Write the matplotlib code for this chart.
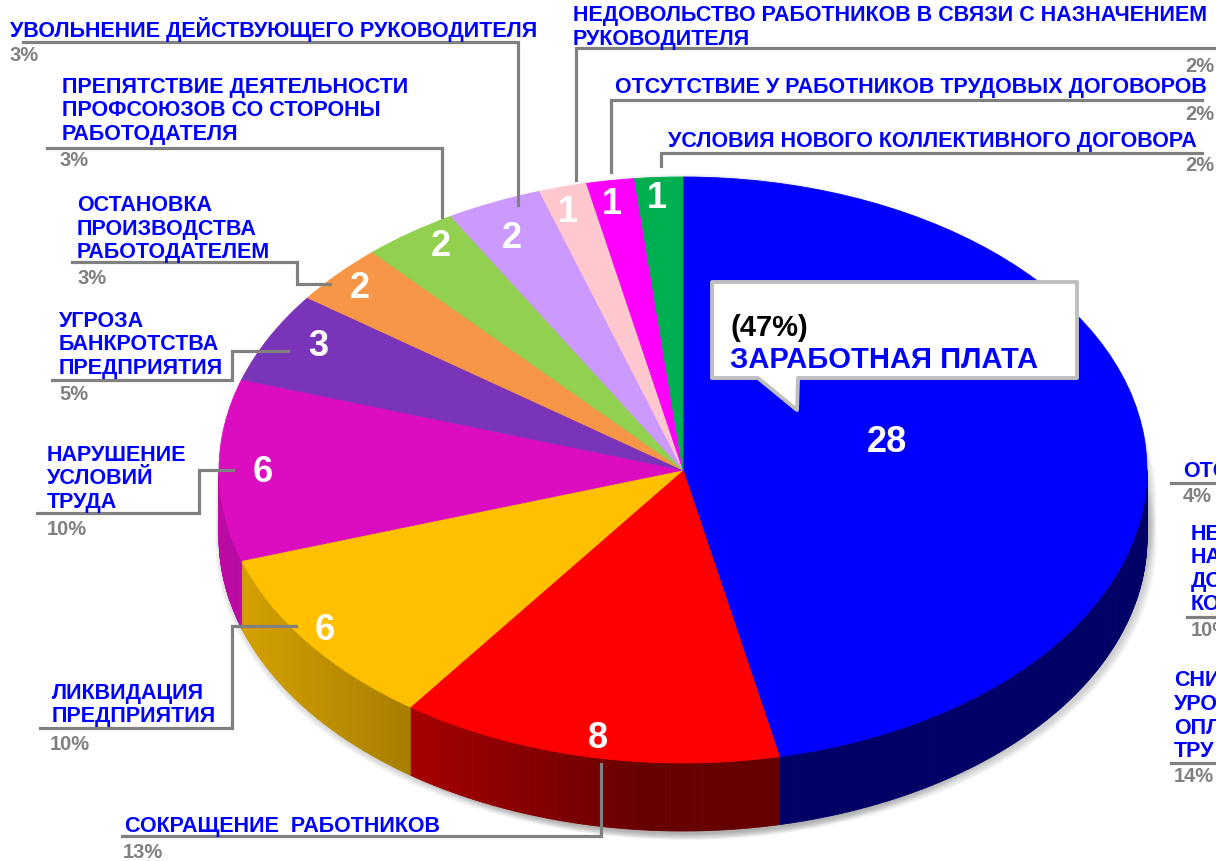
import matplotlib
matplotlib.use("Agg")
import matplotlib.pyplot as plt
import numpy as np
from matplotlib.collections import PolyCollection
from matplotlib.patches import Polygon, Ellipse
import matplotlib.colors as mcolors

plt.rcParams['font.family'] = ['Liberation Sans', 'DejaVu Sans']

# ---------------- data ----------------
categories = [
    "ЗАРАБОТНАЯ ПЛАТА",
    "СОКРАЩЕНИЕ  РАБОТНИКОВ",
    "ЛИКВИДАЦИЯ\nПРЕДПРИЯТИЯ",
    "НАРУШЕНИЕ\nУСЛОВИЙ\nТРУДА",
    "УГРОЗА\nБАНКРОТСТВА\nПРЕДПРИЯТИЯ",
    "ОСТАНОВКА\nПРОИЗВОДСТВА\nРАБОТОДАТЕЛЕМ",
    "ПРЕПЯТСТВИЕ ДЕЯТЕЛЬНОСТИ\nПРОФСОЮЗОВ СО СТОРОНЫ\nРАБОТОДАТЕЛЯ",
    "УВОЛЬНЕНИЕ ДЕЙСТВУЮЩЕГО РУКОВОДИТЕЛЯ",
    "НЕДОВОЛЬСТВО РАБОТНИКОВ В СВЯЗИ С НАЗНАЧЕНИЕМ\nРУКОВОДИТЕЛЯ",
    "ОТСУТСТВИЕ У РАБОТНИКОВ ТРУДОВЫХ ДОГОВОРОВ",
    "УСЛОВИЯ НОВОГО КОЛЛЕКТИВНОГО ДОГОВОРА",
]
values = [28, 8, 6, 6, 3, 2, 2, 2, 1, 1, 1]
colors = ["#0000FF", "#FF0000", "#FFC000", "#DC0CC0", "#7A34B9", "#F79646",
          "#92D050", "#CC99FF", "#FFC7CE", "#FF00FF", "#00B050"]

# visible fragments of the neighbouring chart's labels (cut at the right edge)
extra_labels = ["ОТС", "НЕ\nНА\nДО\nКО", "СНИ\nУРО\nОПЛ\nТРУ"]
extra_percents = ["4%", "10%", "14%"]

# ---------------- layout (pixels) ----------------
W, H = 1216, 861
CX, CY, RX, RY, DEPTH = 683, 470, 464, 293, 68

fig = plt.figure(figsize=(W / 100, H / 100), dpi=100)
fig.patch.set_facecolor("white")

ax = fig.add_axes([0, 0, 1, 1])
wedges, _ = ax.pie(values, colors=colors, startangle=90, counterclock=False,
                   radius=1.0, center=(0, 0),
                   wedgeprops=dict(linewidth=0.6, zorder=3))
for w in wedges:
    w.set_edgecolor(w.get_facecolor())
ax.set_aspect("auto")
ax.set_xlim(-CX / RX, (W - CX) / RX)
ax.set_ylim(-(H - CY) / RY, CY / RY)
ax.axis("off")

d = DEPTH / RY

# soft narrow shadow around the body
for i in range(6):
    e = Ellipse((0.006, -d * 0.5 - 0.01), 2.0 + 0.006 * i, 2.0 + d + 0.008 * i,
                facecolor="#707070", edgecolor="none", alpha=0.06, zorder=0)
    ax.add_patch(e)
    e2 = Ellipse((0.006, -d - 0.01), 2.0 + 0.006 * i, 2.0 + 0.008 * i,
                 facecolor="#707070", edgecolor="none", alpha=0.06, zorder=0)
    ax.add_patch(e2)


def shade(x):
    return float(np.clip(0.86 - 0.5 * (x + 1), 0.40, 0.86))


polys, pcols = [], []
for w, c in zip(wedges, colors):
    base = np.array(mcolors.to_rgb(c))
    t1, t2 = w.theta1, w.theta2
    for k in (-360, 0, 360):
        lo, hi = max(t1, 180 + k), min(t2, 360 + k)
        if hi <= lo:
            continue
        angs = np.linspace(lo, hi, max(2, int((hi - lo) / 0.5) + 1))
        for a, b in zip(angs[:-1], angs[1:]):
            ra, rb = np.radians(a), np.radians(b)
            pts = [(np.cos(ra), np.sin(ra)), (np.cos(rb), np.sin(rb)),
                   (np.cos(rb), np.sin(rb) - d), (np.cos(ra), np.sin(ra) - d)]
            polys.append(pts)
            xm = 0.5 * (np.cos(ra) + np.cos(rb))
            pcols.append(tuple(base * shade(xm)))
pc = PolyCollection(polys, facecolors=pcols, edgecolors=pcols, linewidths=0.6, zorder=2)
ax.add_collection(pc)

# ---------------- overlay in pixel coordinates ----------------
ov = fig.add_axes([0, 0, 1, 1])
ov.set_xlim(0, W)
ov.set_ylim(H, 0)
ov.axis("off")
ov.patch.set_alpha(0)

total = sum(values)
pcts = ["%d%%" % round(v * 100 / total) for v in values]

BLUE = "#0000FF"
GREY = "#808080"
LFS = 15.5
PFS = 14.5
LH = 23.5

# value labels on slices
num_pos = [(887, 442), (598, 739), (325, 630), (263, 472), (318, 347), (360, 288),
           (441, 247), (512, 238), (568, 213), (612, 205), (657, 198)]
for v, (x, y) in zip(values, num_pos):
    ov.text(x, y, str(v), color="white", fontsize=26, fontweight="bold",
            ha="center", va="center", zorder=10)

# category labels: (x, baseline of last line)
lab_pos = [None, (125, 832), (52, 722), (47, 508), (59, 374), (77, 258),
           (62, 140), (10, 36.5), (573, 45), (615, 93), (668, 147)]
pct_pos = [None, (123, 858, "left"), (50, 750, "left"), (47, 535, "left"),
           (59, 400, "left"), (77, 284, "left"), (60, 166, "left"),
           (10, 61, "left"), (1214, 72, "right"), (1214, 120, "right"),
           (1214, 171, "right")]
leaders = [None,
           [(122, 836), (601, 836), (601, 764)],
           [(40, 728), (232, 728), (232, 626), (296, 626)],
           [(37, 513), (199, 513), (199, 470), (233, 470)],
           [(52, 380), (232, 380), (232, 351), (288, 351)],
           [(72, 262), (297, 262), (297, 284), (330, 284)],
           [(47, 148), (442, 148), (442, 217)],
           [(23, 41.7), (518, 41.7), (518, 205)],
           [(1220, 48), (576, 48), (576, 180)],
           [(1202, 100), (611, 100), (611, 172)],
           [(1202, 152.7), (661, 152.7), (661, 166)]]


def draw_label(text, x, ybase, ha="left"):
    lines = text.split("\n")
    n = len(lines)
    for i, ln in enumerate(lines):
        ov.text(x, ybase - (n - 1 - i) * LH, ln, color=BLUE, fontsize=LFS,
                fontweight="bold", ha=ha, va="baseline", zorder=10)


for i in range(1, len(values)):
    draw_label(categories[i], *lab_pos[i])
    px, py, pha = pct_pos[i]
    ov.text(px, py, pcts[i], color=GREY, fontsize=PFS, fontweight="bold",
            ha=pha, va="baseline", zorder=10)
    xs, ys = zip(*leaders[i])
    ov.plot(xs, ys, color=GREY, lw=2.3, solid_joinstyle="miter", zorder=9)

# cut-off labels at right edge
extra_lab_pos = [(1183, 477), (1191, 610), (1174, 757)]
extra_pct_pos = [(1183, 502), (1191, 636), (1174, 782)]
extra_lines = [[(1171, 483), (1220, 483)], [(1187, 617), (1220, 617)],
               [(1171, 763), (1220, 763)]]
for t, (x, y), p, (qx, qy), ln in zip(extra_labels, extra_lab_pos, extra_percents,
                                       extra_pct_pos, extra_lines):
    draw_label(t, x, y)
    ov.text(qx, qy, p, color=GREY, fontsize=PFS, fontweight="bold",
            ha="left", va="baseline", zorder=10)
    xs, ys = zip(*ln)
    ov.plot(xs, ys, color=GREY, lw=2.3, zorder=9)

# callout for the largest slice
callout = Polygon([(712, 282), (1077, 282), (1077, 378), (798, 378), (797, 410),
                   (758, 378), (712, 378)], closed=True, facecolor="white",
                  edgecolor="#BFBFBF", lw=2.8, joinstyle="round", zorder=11)
ov.add_patch(callout)
ov.text(730, 336, "(%s)" % pcts[0], color="black", fontsize=21, fontweight="bold",
        ha="left", va="baseline", zorder=12)
ov.text(730, 368, categories[0], color=BLUE, fontsize=21, fontweight="bold",
        ha="left", va="baseline", zorder=12)

fig.savefig("out.png", dpi=100, facecolor="white")
